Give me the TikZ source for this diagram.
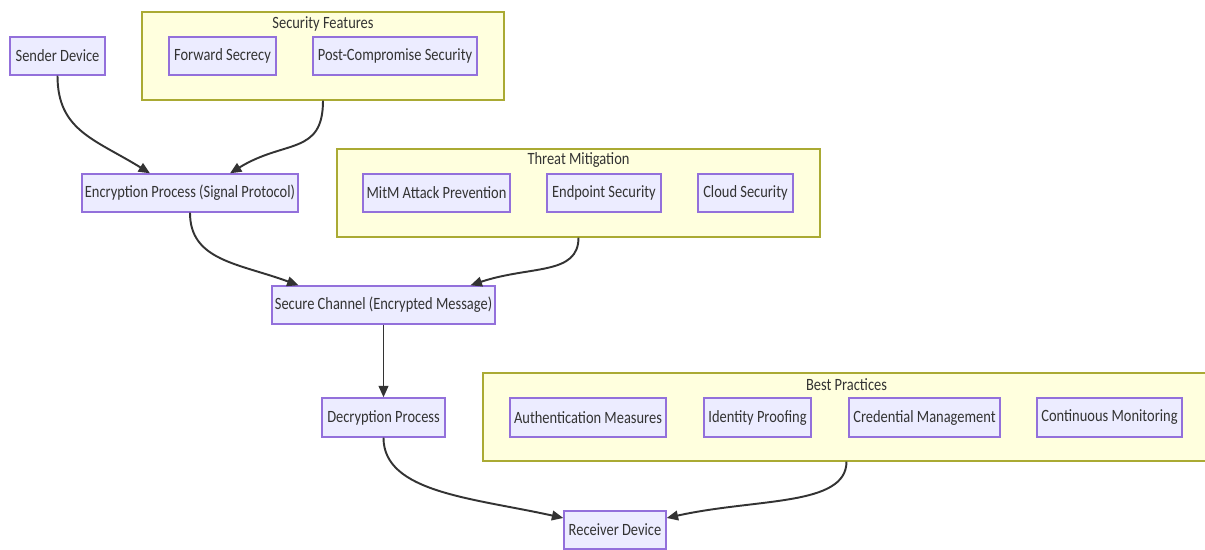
\documentclass[tikz,border=0pt]{standalone}
\usepackage{fontspec}
\setmainfont{Carlito}
\usetikzlibrary{arrows.meta,fit,calc}
\definecolor{nodefill}{HTML}{ECECFF}
\definecolor{nodeborder}{HTML}{9370DB}
\definecolor{clfill}{HTML}{FFFFDE}
\definecolor{clborder}{HTML}{AAAA33}
\definecolor{txt}{HTML}{333333}
\definecolor{edgec}{HTML}{333333}
\newcommand\narrow[1]{\scalebox{0.84}[1]{#1}}
\tikzset{
  lbl/.style={text=txt, font=\fontsize{9.8}{12}\selectfont, inner sep=0pt},
  box/.style={draw=nodeborder, fill=nodefill, line width=0.8pt, inner sep=0pt},
  cluster/.style={draw=clborder, fill=clfill, line width=0.6pt, inner sep=0pt},
  edge/.style={draw=edgec, line width=1.1pt, -{Triangle[length=6.5pt,width=5.5pt]}},
}
\begin{document}
\begin{tikzpicture}[x=0.02cm,y=-0.02cm]
\useasboundingbox (0,0) rectangle (1205,549);
% clusters
\node[cluster, fit={(142,12) (504,100)}] (secf) {};
\node[lbl] (secft) at ($(secf.north)+(0,12)$) {\narrow{Security Features}};
\node[cluster, fit={(337,149) (820,237)}] (threat) {};
\node[lbl] (threatt) at ($(threat.north)+(0,12)$) {\narrow{Threat Mitigation}};
\node[cluster, fit={(483,373) (1210,461)}] (best) {};
\node[lbl] (bestt) at ($(best.north)+(0,12)$) {\narrow{Best Practices}};
% nodes
\node[box, fit={(10,37) (105,75)}, label={[lbl]center:\narrow{Sender Device}}] (sender) {};
\node[box, fit={(169,37) (276,75)}, label={[lbl]center:\narrow{Forward Secrecy}}] (fwd) {};
\node[box, fit={(313,37) (477,75)}, label={[lbl]center:\narrow{Post-Compromise Security}}] (pcs) {};
\node[box, fit={(82,174) (298,212)}, label={[lbl]center:\narrow{Encryption Process (Signal Protocol)}}] (enc) {};
\node[box, fit={(363,174) (510,212)}, label={[lbl]center:\narrow{MitM Attack Prevention}}] (mitm) {};
\node[box, fit={(547,174) (661,212)}, label={[lbl]center:\narrow{Endpoint Security}}] (endp) {};
\node[box, fit={(698,174) (793,212)}, label={[lbl]center:\narrow{Cloud Security}}] (cloud) {};
\node[box, fit={(272,286) (495,324)}, label={[lbl]center:\narrow{Secure Channel (Encrypted Message)}}] (chan) {};
\node[box, fit={(322,398) (445,437)}, label={[lbl]center:\narrow{Decryption Process}}] (dec) {};
\node[box, fit={(510,398) (666,437)}, label={[lbl]center:\narrow{Authentication Measures}}] (auth) {};
\node[box, fit={(704,398) (811,437)}, label={[lbl]center:\narrow{Identity Proofing}}] (idp) {};
\node[box, fit={(849,398) (1000,437)}, label={[lbl]center:\narrow{Credential Management}}] (cred) {};
\node[box, fit={(1037,398) (1182,437)}, label={[lbl]center:\narrow{Continuous Monitoring}}] (cont) {};
\node[box, fit={(564,511) (666,549)}, label={[lbl]center:\narrow{Receiver Device}}] (recv) {};
% edges
\draw[edge] (sender.south) .. controls +(0,55) and +(-55,-34) .. ($(enc.north)+(-40,0)$);
\draw[edge] (secf.south) .. controls +(0,55) and +(55,-34) .. ($(enc.north)+(40,0)$);
\draw[edge] (enc.south) .. controls +(0,48) and +(-60,-22) .. ($(chan.north)+(-85,0)$);
\draw[edge] (threat.south) .. controls +(0,38) and +(60,-20) .. ($(chan.north)+(87,0)$);
\draw[edge] (chan.south) -- (dec.north);
\draw[edge] (dec.south) .. controls +(0,55) and +(-90,-20) .. ($(recv.west)+(0,-12)$);
\draw[edge] (best.south) .. controls +(0,45) and +(90,-20) .. ($(recv.east)+(0,-12)$);
\end{tikzpicture}
\end{document}
